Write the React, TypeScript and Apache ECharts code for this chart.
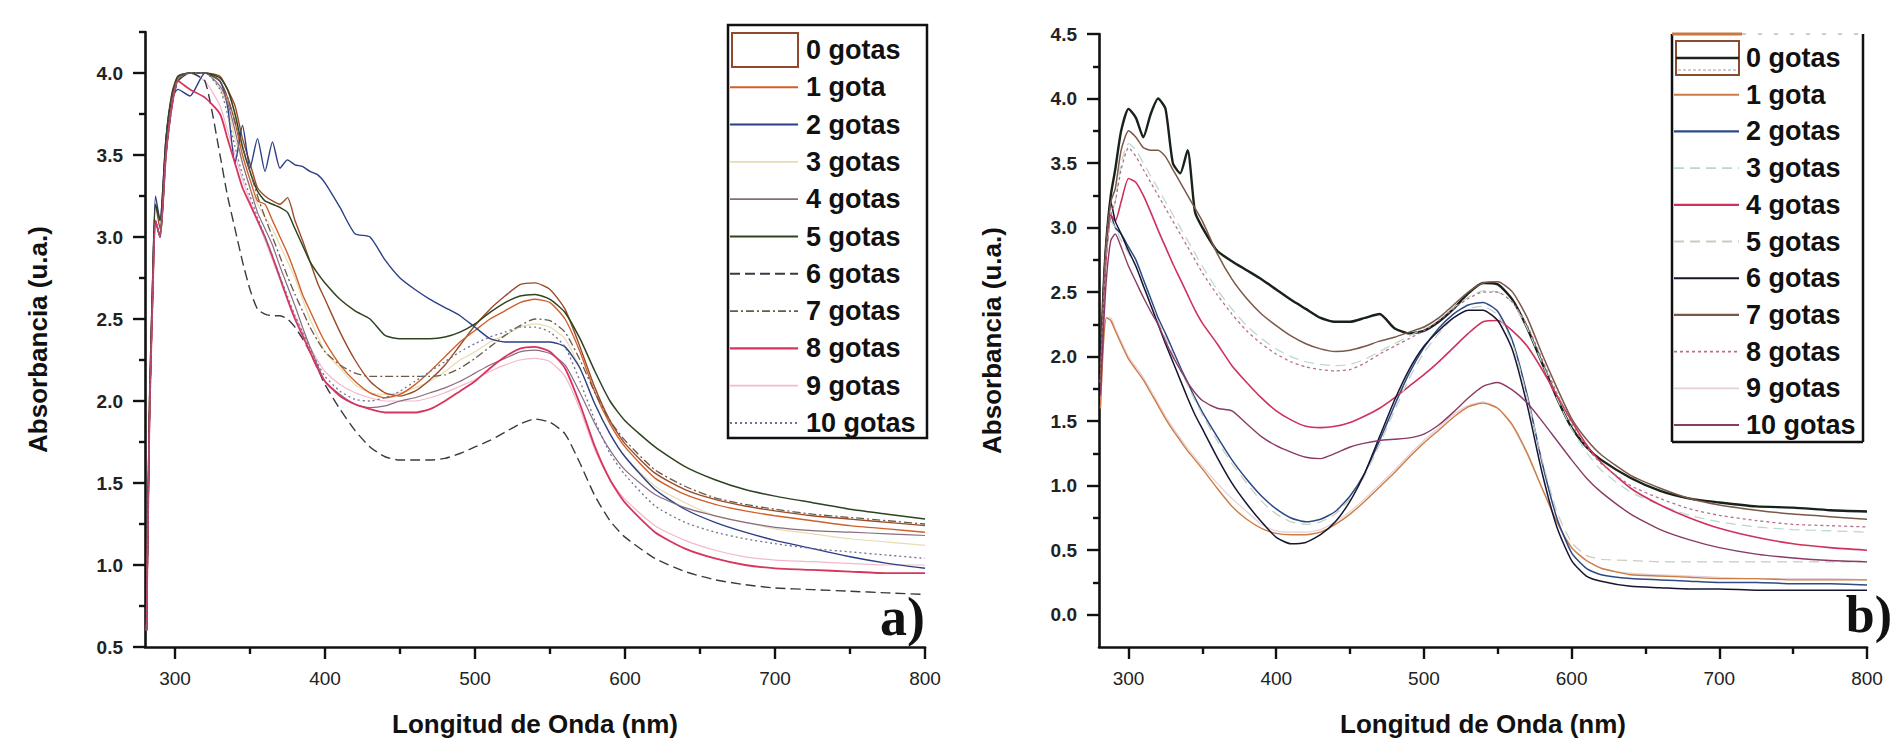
import React, { useEffect, useRef } from 'react';
import * as echarts from 'echarts';

// ---------------- DATA ----------------
const seriesNames = ['0 gotas', '1 gota', '2 gotas', '3 gotas', '4 gotas', '5 gotas', '6 gotas', '7 gotas', '8 gotas', '9 gotas', '10 gotas'];

const xMajorTicks = [300, 400, 500, 600, 700, 800];
const xMinorTicks = [350, 450, 550, 650, 750];
const yMajorTicksA = [0.5, 1.0, 1.5, 2.0, 2.5, 3.0, 3.5, 4.0];
const yMinorTicksA = [0.75, 1.25, 1.75, 2.25, 2.75, 3.25, 3.75, 4.25];
const yMajorTicksB = [0.0, 0.5, 1.0, 1.5, 2.0, 2.5, 3.0, 3.5, 4.0, 4.5];
const yMinorTicksB = [0.25, 0.75, 1.25, 1.75, 2.25, 2.75, 3.25, 3.75, 4.25];

// Panel a) wavelengths (nm)
const wavelengthsA = [281, 283, 285, 287, 290, 294, 298, 302, 310, 320, 330, 335, 340, 345, 350, 355, 360, 365, 370, 375, 380, 385, 390, 395, 400, 410, 420, 430, 440, 450, 460, 470, 480, 490, 500, 510, 520, 530, 540, 550, 560, 570, 580, 590, 600, 620, 640, 660, 680, 700, 725, 750, 775, 800];

const a0 = [0.7, 2.0, 2.7, 3.2, 3.05, 3.6, 3.88, 3.98, 4.0, 4.0, 3.98, 3.9, 3.8, 3.6, 3.45, 3.3, 3.25, 3.22, 3.2, 3.24, 3.1, 2.98, 2.85, 2.72, 2.62, 2.42, 2.25, 2.12, 2.05, 2.03, 2.06, 2.13, 2.22, 2.34, 2.46, 2.56, 2.64, 2.71, 2.72, 2.68, 2.56, 2.33, 2.08, 1.88, 1.74, 1.56, 1.46, 1.4, 1.36, 1.33, 1.3, 1.28, 1.26, 1.24];
const a1 = [0.6, 1.9, 2.6, 3.1, 3.0, 3.55, 3.85, 3.97, 4.0, 4.0, 3.95, 3.85, 3.7, 3.5, 3.35, 3.22, 3.2, 3.1, 3.0, 2.9, 2.78, 2.65, 2.55, 2.45, 2.36, 2.22, 2.12, 2.05, 2.02, 2.04, 2.1, 2.18, 2.27, 2.36, 2.43, 2.5, 2.55, 2.6, 2.62, 2.6, 2.5, 2.3, 2.05, 1.86, 1.72, 1.53, 1.43, 1.37, 1.33, 1.3, 1.27, 1.24, 1.22, 1.2];
const a2 = [0.6, 1.9, 2.7, 3.25, 3.1, 3.6, 3.85, 3.9, 3.86, 4.0, 3.95, 3.8, 3.45, 3.68, 3.42, 3.6, 3.4, 3.58, 3.42, 3.47, 3.44, 3.43, 3.4, 3.38, 3.33, 3.18, 3.02, 3.0, 2.86, 2.75, 2.68, 2.62, 2.57, 2.52, 2.45, 2.38, 2.36, 2.36, 2.36, 2.36, 2.33, 2.2, 1.98, 1.8, 1.66, 1.46, 1.34, 1.26, 1.2, 1.15, 1.1, 1.05, 1.01, 0.98];
const a3 = [0.6, 1.9, 2.6, 3.1, 3.0, 3.5, 3.8, 3.95, 4.0, 4.0, 3.9, 3.8, 3.6, 3.45, 3.3, 3.2, 3.12, 3.05, 2.95, 2.85, 2.75, 2.62, 2.5, 2.4, 2.3, 2.2, 2.1, 2.05, 2.04, 2.05, 2.08, 2.12, 2.18, 2.25, 2.3, 2.36, 2.4, 2.45, 2.47, 2.45, 2.38, 2.2, 1.98, 1.8, 1.66, 1.48, 1.38, 1.3, 1.26, 1.22, 1.19, 1.16, 1.14, 1.12];
const a4 = [0.6, 1.9, 2.6, 3.1, 3.0, 3.5, 3.82, 3.96, 4.0, 4.0, 3.92, 3.82, 3.65, 3.45, 3.3, 3.15, 3.05, 2.95, 2.82, 2.7, 2.58, 2.45, 2.33, 2.22, 2.12, 2.04, 1.98, 1.96, 1.97, 2.0, 2.02, 2.05, 2.08, 2.12, 2.17, 2.22, 2.26, 2.3, 2.31, 2.29, 2.22, 2.05, 1.86, 1.7, 1.58, 1.43, 1.35, 1.3, 1.26, 1.23, 1.21, 1.2, 1.19, 1.18];
const a5 = [0.6, 2.0, 2.7, 3.2, 3.1, 3.6, 3.87, 3.98, 4.0, 4.0, 3.97, 3.9, 3.75, 3.55, 3.4, 3.28, 3.22, 3.2, 3.18, 3.15, 3.05, 2.95, 2.85, 2.78, 2.72, 2.62, 2.55, 2.5, 2.4, 2.38, 2.38, 2.38, 2.39, 2.42, 2.47, 2.54, 2.6, 2.64, 2.65, 2.62, 2.54, 2.38, 2.18, 2.0, 1.88, 1.72, 1.6, 1.52, 1.46, 1.42, 1.38, 1.34, 1.31, 1.28];
const a6 = [0.6, 1.9, 2.6, 3.1, 3.0, 3.5, 3.8, 3.95, 4.0, 3.95, 3.5, 3.25, 3.05, 2.85, 2.68, 2.56, 2.53, 2.52, 2.52, 2.5, 2.45, 2.38, 2.3, 2.2, 2.1, 1.95, 1.82, 1.72, 1.66, 1.64, 1.64, 1.64, 1.65, 1.68, 1.72, 1.76, 1.81, 1.86, 1.89, 1.87, 1.8, 1.62, 1.42, 1.27, 1.17, 1.04, 0.96, 0.91, 0.88, 0.86, 0.85, 0.84, 0.83, 0.82];
const a7 = [0.6, 1.9, 2.6, 3.1, 3.0, 3.55, 3.85, 3.97, 4.0, 4.0, 3.95, 3.85, 3.7, 3.55, 3.4, 3.25, 3.12, 3.0, 2.88, 2.76, 2.65, 2.55, 2.45, 2.37, 2.3, 2.22, 2.17, 2.15, 2.15, 2.15, 2.15, 2.15, 2.16, 2.2, 2.26, 2.33, 2.4, 2.46, 2.5, 2.49, 2.42, 2.25, 2.05, 1.88, 1.76, 1.58, 1.48, 1.41, 1.37, 1.34, 1.31, 1.29, 1.27, 1.25];
const a8 = [0.6, 1.9, 2.6, 3.1, 3.0, 3.5, 3.8, 3.95, 3.9, 3.85, 3.75, 3.6, 3.45, 3.3, 3.2, 3.1, 3.0, 2.88, 2.75, 2.62, 2.5, 2.4, 2.3, 2.2, 2.12, 2.03, 1.98, 1.95, 1.93, 1.93, 1.93, 1.95, 2.0, 2.06, 2.12, 2.2, 2.27, 2.32, 2.33, 2.3, 2.2, 1.98, 1.72, 1.52, 1.38, 1.2, 1.1, 1.04, 1.0, 0.98, 0.97, 0.96, 0.95, 0.95];
const a9 = [0.6, 1.9, 2.6, 3.1, 3.0, 3.5, 3.8, 3.95, 4.0, 3.95, 3.8, 3.65, 3.5, 3.35, 3.22, 3.1, 2.98, 2.86, 2.74, 2.62, 2.52, 2.42, 2.33, 2.25, 2.18, 2.1, 2.05, 2.02, 2.0, 2.0, 2.0, 2.02, 2.05, 2.09, 2.13, 2.18, 2.22, 2.25, 2.26, 2.24, 2.15, 1.95, 1.7, 1.52, 1.4, 1.24, 1.15, 1.09, 1.05, 1.03, 1.02, 1.01, 1.0, 1.0];
const a10 = [0.6, 1.9, 2.6, 3.1, 3.0, 3.5, 3.82, 3.96, 4.0, 4.0, 3.9, 3.75, 3.55, 3.38, 3.25, 3.12, 3.0, 2.88, 2.76, 2.64, 2.52, 2.42, 2.32, 2.23, 2.15, 2.06, 2.01, 2.0, 2.02, 2.06, 2.12, 2.18, 2.24, 2.3, 2.35, 2.39, 2.42, 2.45, 2.45, 2.42, 2.33, 2.12, 1.88, 1.68, 1.55, 1.36, 1.26, 1.2, 1.16, 1.13, 1.1, 1.08, 1.06, 1.04];

// Panel b) wavelengths (nm)
const wavelengthsB = [281, 283, 285, 288, 291, 295, 300, 305, 310, 315, 320, 325, 330, 335, 340, 345, 350, 360, 370, 380, 390, 400, 410, 420, 430, 440, 450, 460, 470, 480, 490, 500, 510, 520, 530, 540, 550, 560, 570, 580, 590, 600, 610, 620, 640, 660, 680, 700, 725, 750, 775, 800];

const b0 = [1.9, 2.5, 2.9, 3.25, 3.45, 3.75, 3.92, 3.85, 3.7, 3.88, 4.0, 3.92, 3.5, 3.42, 3.6, 3.12, 3.0, 2.82, 2.74, 2.67, 2.6, 2.52, 2.44, 2.37, 2.3, 2.27, 2.27, 2.3, 2.33, 2.22, 2.18, 2.2, 2.27, 2.37, 2.49, 2.57, 2.56, 2.44, 2.22, 1.95, 1.68, 1.45, 1.3, 1.2, 1.06, 0.96, 0.9, 0.87, 0.84, 0.83, 0.81, 0.8];
const b1 = [1.6, 2.1, 2.3, 2.28, 2.2, 2.1, 1.98, 1.9, 1.82, 1.72, 1.62, 1.52, 1.43, 1.35, 1.27, 1.2, 1.13, 0.98, 0.84, 0.74, 0.67, 0.63, 0.62, 0.62, 0.64, 0.7, 0.78, 0.88, 0.99, 1.1, 1.22, 1.33, 1.43, 1.53, 1.61, 1.64, 1.6, 1.47, 1.25, 0.98, 0.72, 0.52, 0.42, 0.36, 0.31, 0.3, 0.29, 0.28, 0.28, 0.27, 0.27, 0.27];
const b2 = [1.8, 2.4, 2.8, 3.1, 3.0, 2.95, 2.85, 2.75, 2.6, 2.45, 2.3, 2.18, 2.05, 1.92, 1.8, 1.68, 1.57, 1.38, 1.2, 1.05, 0.92, 0.82, 0.75, 0.72, 0.74, 0.8, 0.92, 1.1, 1.35, 1.62, 1.87, 2.07, 2.22, 2.33, 2.4, 2.42, 2.35, 2.12, 1.7, 1.18, 0.75, 0.48, 0.36, 0.31, 0.28, 0.27, 0.26, 0.25, 0.25, 0.24, 0.24, 0.23];
const b3 = [1.8, 2.4, 2.8, 3.1, 3.2, 3.5, 3.65, 3.6, 3.5, 3.4, 3.3, 3.2, 3.1, 3.0, 2.9, 2.8, 2.7, 2.52, 2.37, 2.24, 2.14, 2.06, 2.0, 1.96, 1.94, 1.93, 1.94, 1.98, 2.04, 2.1, 2.16, 2.22, 2.3, 2.38, 2.46, 2.51, 2.5, 2.42, 2.22, 1.95, 1.68, 1.44, 1.26, 1.12, 0.95, 0.85, 0.77, 0.72, 0.68, 0.66, 0.65, 0.64];
const b4 = [1.8, 2.4, 2.8, 3.1, 3.05, 3.2, 3.38, 3.35, 3.25, 3.12, 2.98, 2.85, 2.72, 2.6, 2.48, 2.36, 2.26, 2.1, 1.93, 1.8, 1.68, 1.58, 1.51, 1.46, 1.45, 1.46, 1.49, 1.54, 1.6, 1.68, 1.77, 1.86, 1.96, 2.07, 2.18, 2.27, 2.28, 2.2, 2.08, 1.9, 1.7, 1.5, 1.32, 1.18, 0.98, 0.85, 0.75, 0.67, 0.6, 0.55, 0.52, 0.5];
const b5 = [1.8, 2.4, 2.8, 3.05, 3.0, 2.9, 2.8, 2.7, 2.56, 2.42, 2.28, 2.15, 2.02, 1.9, 1.78, 1.66, 1.55, 1.35, 1.17, 1.02, 0.88, 0.78, 0.72, 0.7, 0.72, 0.78, 0.9, 1.08, 1.32, 1.58, 1.83, 2.03, 2.18, 2.3, 2.37, 2.39, 2.32, 2.1, 1.68, 1.2, 0.8, 0.56, 0.46, 0.43, 0.42, 0.41, 0.41, 0.41, 0.41, 0.41, 0.41, 0.41];
const b6 = [1.8, 2.5, 2.9, 3.2, 3.05, 2.95, 2.82, 2.7, 2.55, 2.4, 2.25, 2.1, 1.96, 1.82, 1.68, 1.55, 1.44, 1.22, 1.02, 0.86, 0.72, 0.6, 0.55, 0.56, 0.62, 0.72, 0.88, 1.1, 1.38, 1.66, 1.9, 2.08, 2.2, 2.3, 2.36, 2.36, 2.28, 2.05, 1.62, 1.1, 0.68, 0.42, 0.3, 0.26, 0.22, 0.21, 0.2, 0.2, 0.19, 0.19, 0.19, 0.19];
const b7 = [1.8, 2.5, 2.9, 3.2, 3.3, 3.6, 3.75, 3.7, 3.62, 3.6, 3.6, 3.55, 3.45, 3.35, 3.25, 3.15, 3.05, 2.8, 2.6, 2.45, 2.33, 2.24, 2.16, 2.1, 2.06, 2.04, 2.05, 2.08, 2.12, 2.15, 2.19, 2.23, 2.3, 2.4, 2.5, 2.57, 2.58, 2.5, 2.3, 2.02, 1.76, 1.52, 1.36, 1.24, 1.08, 0.98, 0.9, 0.85, 0.81, 0.78, 0.76, 0.74];
const b8 = [1.8, 2.4, 2.8, 3.1, 3.2, 3.45, 3.62, 3.55, 3.45, 3.35, 3.25, 3.15, 3.05, 2.95, 2.85, 2.75, 2.65, 2.48, 2.33, 2.2, 2.1, 2.02, 1.96, 1.92, 1.9, 1.89, 1.9, 1.95, 2.02, 2.08, 2.14, 2.2, 2.28, 2.37, 2.45, 2.5, 2.5, 2.42, 2.24, 1.98, 1.72, 1.48, 1.3, 1.17, 1.0, 0.9, 0.82, 0.77, 0.73, 0.7, 0.69, 0.68];
const b9 = [1.6, 2.1, 2.3, 2.3, 2.22, 2.12, 2.0, 1.92, 1.84, 1.74, 1.64, 1.54, 1.45, 1.37, 1.29, 1.22, 1.15, 1.02, 0.9, 0.8, 0.7, 0.65, 0.64, 0.64, 0.66, 0.72, 0.8, 0.9, 1.01, 1.12, 1.24, 1.35, 1.45, 1.55, 1.62, 1.65, 1.6, 1.46, 1.24, 0.98, 0.72, 0.52, 0.42, 0.36, 0.32, 0.31, 0.3, 0.29, 0.28, 0.28, 0.28, 0.27];
const b10 = [1.7, 2.2, 2.6, 2.9, 2.95, 2.85, 2.7, 2.58, 2.46, 2.35, 2.25, 2.12, 2.0, 1.9, 1.8, 1.72, 1.66, 1.6, 1.58, 1.48, 1.38, 1.31, 1.26, 1.22, 1.21, 1.25, 1.3, 1.33, 1.35, 1.36, 1.37, 1.4, 1.47, 1.57, 1.68, 1.77, 1.8, 1.74, 1.64, 1.5, 1.35, 1.2, 1.06, 0.95, 0.78, 0.66, 0.58, 0.52, 0.47, 0.44, 0.42, 0.41];

const valuesA = [a0, a1, a2, a3, a4, a5, a6, a7, a8, a9, a10];
const valuesB = [b0, b1, b2, b3, b4, b5, b6, b7, b8, b9, b10];

// ---------------- STYLES ----------------
type LS = { color: string; width: number; dash?: number[] };
const stylesA: LS[] = [
  { color: '#9a4a28', width: 1.4 },
  { color: '#d0602a', width: 1.4 },
  { color: '#2b3f86', width: 1.4 },
  { color: '#e8dcb0', width: 1.2 },
  { color: '#8a6a80', width: 1.2 },
  { color: '#2e4420', width: 1.5 },
  { color: '#3a3a44', width: 1.4, dash: [10, 5] },
  { color: '#6a5a48', width: 1.3, dash: [8, 3, 2, 3] },
  { color: '#d8345e', width: 1.8 },
  { color: '#f2b8cc', width: 1.2 },
  { color: '#707090', width: 1.3, dash: [2, 3] },
];
const stylesB: LS[] = [
  { color: '#18221a', width: 2.4 },
  { color: '#cc7c44', width: 1.4 },
  { color: '#2c4a86', width: 1.5 },
  { color: '#b8d8cc', width: 1.2, dash: [10, 6] },
  { color: '#d0305c', width: 1.6 },
  { color: '#c8ccc0', width: 1.2, dash: [10, 6] },
  { color: '#161630', width: 1.5 },
  { color: '#7a5848', width: 1.5 },
  { color: '#b87088', width: 1.3, dash: [3, 3] },
  { color: '#e4d0d8', width: 1.2 },
  { color: '#8a3a66', width: 1.4 },
];

const FONT = "'Liberation Sans', Arial, Helvetica, sans-serif";
const SERIF = "'Liberation Serif', 'Times New Roman', serif";
const AXIS_COLOR = '#111';

function buildAxes(gridIndex: number, xMin: number, xMax: number, yMin: number, yMax: number, yMaj: number[], yMin2: number[]) {
  const xMajor = {
    type: 'value', gridIndex, min: xMin, max: xMax, position: 'bottom',
    name: 'Longitud de Onda (nm)', nameLocation: 'middle', nameGap: 64,
    nameTextStyle: { fontFamily: FONT, fontSize: 26, fontWeight: 'bold', color: '#111' },
    axisLine: { show: true, onZero: false, lineStyle: { color: AXIS_COLOR, width: 2.6 } },
    axisTick: { show: true, customValues: xMajorTicks, length: 12, lineStyle: { color: AXIS_COLOR, width: 2.4 } },
    axisLabel: { show: true, customValues: xMajorTicks, margin: 22, fontFamily: FONT, fontSize: 19, color: '#222',
      formatter: (v: number) => String(Math.round(v)) },
    splitLine: { show: false },
  };
  const xMinor = {
    type: 'value', gridIndex, min: xMin, max: xMax, position: 'bottom',
    axisLine: { show: false, onZero: false },
    axisTick: { show: true, customValues: xMinorTicks, length: 7, lineStyle: { color: AXIS_COLOR, width: 2.4 } },
    axisLabel: { show: false },
    splitLine: { show: false },
  };
  const yMajor = {
    type: 'value', gridIndex, min: yMin, max: yMax, position: 'left',
    name: 'Absorbancia (u.a.)', nameLocation: 'middle', nameGap: 94,
    nameTextStyle: { fontFamily: FONT, fontSize: 26, fontWeight: 'bold', color: '#111' },
    axisLine: { show: true, onZero: false, lineStyle: { color: AXIS_COLOR, width: 2.6 } },
    axisTick: { show: true, customValues: yMaj, length: 12, lineStyle: { color: AXIS_COLOR, width: 2.4 } },
    axisLabel: { show: true, customValues: yMaj, margin: 22, fontFamily: FONT, fontSize: 19, fontWeight: 'bold', color: '#222',
      formatter: (v: number) => v.toFixed(1) },
    splitLine: { show: false },
  };
  const yMinor = {
    type: 'value', gridIndex, min: yMin, max: yMax, position: 'left',
    axisLine: { show: false, onZero: false },
    axisTick: { show: true, customValues: yMin2, length: 6, lineStyle: { color: AXIS_COLOR, width: 2.4 } },
    axisLabel: { show: false },
    splitLine: { show: false },
  };
  return { x: [xMajor, xMinor], y: [yMajor, yMinor] };
}

function buildSeries(xs: number[], vals: number[][], styles: LS[], axisIndex: number) {
  return vals.map((v, i) => ({
    type: 'line',
    name: seriesNames[i] + (axisIndex === 0 ? ' (a)' : ' (b)'),
    xAxisIndex: axisIndex,
    yAxisIndex: axisIndex,
    data: xs.map((x, j) => [x, v[j]]),
    symbol: 'none',
    showSymbol: false,
    smooth: 0.2,
    silent: true,
    lineStyle: { color: styles[i].color, width: styles[i].width, type: styles[i].dash ? styles[i].dash : 'solid' },
    z: 2 + (styles[i].color.startsWith('#e') || styles[i].color.startsWith('#f') ? 0 : 1),
  }));
}

type LegendCfg = {
  boxX: number; boxY: number; boxW: number; boxH: number;
  firstRowY: number; rowStep: number; textX: number; lineX1: number; lineX2: number;
  samples: LS[]; variant: 'a' | 'b';
};

function buildLegend(cfg: LegendCfg) {
  const els: any[] = [];
  els.push({ type: 'rect', z: 100, shape: { x: cfg.boxX, y: cfg.boxY, width: cfg.boxW, height: cfg.boxH },
    style: { fill: '#fff', stroke: cfg.variant === 'a' ? '#111' : 'transparent', lineWidth: 2.5 } });
  if (cfg.variant === 'b') {
    const x1 = cfg.boxX, x2 = cfg.boxX + cfg.boxW, y1 = cfg.boxY, y2 = cfg.boxY + cfg.boxH;
    els.push({ type: 'line', z: 101, shape: { x1, y1, x2: x1, y2 }, style: { stroke: '#111', lineWidth: 2.5 } });
    els.push({ type: 'line', z: 101, shape: { x1, y1: y2, x2, y2 }, style: { stroke: '#111', lineWidth: 2.5 } });
    els.push({ type: 'line', z: 101, shape: { x1: x2, y1, x2, y2 }, style: { stroke: '#111', lineWidth: 2.5 } });
    els.push({ type: 'line', z: 101, shape: { x1: x1, y1, x2: x1 + 70, y2: y1 }, style: { stroke: '#c87840', lineWidth: 3 } });
    els.push({ type: 'line', z: 101, shape: { x1: x1 + 70, y1, x2, y2: y1 }, style: { stroke: '#bbb', lineWidth: 1.5, lineDash: [4, 12] } });
  }
  seriesNames.forEach((name, i) => {
    const cy = cfg.firstRowY + i * cfg.rowStep;
    if (i === 0) {
      els.push({ type: 'rect', z: 102, shape: { x: cfg.lineX1 + 2, y: cy - 17, width: cfg.lineX2 - cfg.lineX1 - 2, height: 34 },
        style: { fill: 'transparent', stroke: '#8e4a2c', lineWidth: 2 } });
      if (cfg.variant === 'b') {
        els.push({ type: 'line', z: 103, shape: { x1: cfg.lineX1 + 2, y1: cy, x2: cfg.lineX2, y2: cy }, style: { stroke: '#1c241c', lineWidth: 2.5 } });
        els.push({ type: 'line', z: 103, shape: { x1: cfg.lineX1 + 4, y1: cy + 12, x2: cfg.lineX2 - 2, y2: cy + 12 }, style: { stroke: '#9a9aa8', lineWidth: 1.2, lineDash: [3, 2] } });
      }
    } else {
      const s = cfg.samples[i];
      els.push({ type: 'line', z: 102, shape: { x1: cfg.lineX1, y1: cy, x2: cfg.lineX2, y2: cy },
        style: { stroke: s.color, lineWidth: Math.max(1.2, s.width + 0.6), lineDash: s.dash ? s.dash : null } });
    }
    els.push({ type: 'text', z: 104, x: cfg.textX, y: cy,
      style: { text: name, fill: '#111', fontFamily: FONT, fontSize: 27, fontWeight: 'bold',
        align: 'left', verticalAlign: 'middle', textAlign: 'left', textVerticalAlign: 'middle' } });
  });
  return els;
}

export default function App() {
  const ref = useRef<HTMLDivElement>(null);
  useEffect(() => {
    if (!ref.current) return;
    document.body.style.margin = '0';
    const chart = echarts.init(ref.current, null, { renderer: 'svg' });
    const axA = buildAxes(0, 280, 800, 0.5, 4.25, yMajorTicksA, yMinorTicksA);
    const axB = buildAxes(1, 280, 800, -0.25, 4.5, yMajorTicksB, yMinorTicksB);

    const legendA = buildLegend({ boxX: 728, boxY: 25, boxW: 199, boxH: 413, firstRowY: 50, rowStep: 37.3,
      textX: 806, lineX1: 730, lineX2: 798, samples: stylesA, variant: 'a' });
    const legendB = buildLegend({ boxX: 1672, boxY: 34, boxW: 191, boxH: 408, firstRowY: 58, rowStep: 36.7,
      textX: 1746, lineX1: 1674, lineX2: 1739, samples: stylesB, variant: 'b' });

    const option: any = {
      animation: false,
      backgroundColor: '#fff',
      grid: [
        { left: 145, top: 32, width: 780, height: 615, containLabel: false, outerBoundsMode: 'none' },
        { left: 1099, top: 34, width: 768, height: 613, containLabel: false, outerBoundsMode: 'none' },
      ],
      xAxis: [axA.x[0], axA.x[1], axB.x[0], axB.x[1]],
      yAxis: [axA.y[0], axA.y[1], axB.y[0], axB.y[1]],
      series: [
        ...buildSeries(wavelengthsA, valuesA, stylesA, 0),
        ...buildSeries(wavelengthsB, valuesB, stylesB, 2),
      ],
      tooltip: { show: false },
      graphic: {
        elements: [
          ...legendA,
          ...legendB,
          { type: 'text', z: 110, x: 925, y: 644,
            style: { text: 'a)', fill: '#111', fontFamily: SERIF, fontSize: 54, fontWeight: 'bold',
              align: 'right', verticalAlign: 'bottom', textAlign: 'right', textVerticalAlign: 'bottom' } },
          { type: 'text', z: 110, x: 1892, y: 640,
            style: { text: 'b)', fill: '#111', fontFamily: SERIF, fontSize: 52, fontWeight: 'bold',
              align: 'right', verticalAlign: 'bottom', textAlign: 'right', textVerticalAlign: 'bottom' } },
        ],
      },
    };
    chart.setOption(option);
    return () => chart.dispose();
  }, []);
  return (
    <div style={{ position: 'fixed', left: 0, top: 0, width: 1894, height: 742, background: '#fff' }}>
      <div ref={ref} style={{ width: 1894, height: 742 }} />
    </div>
  );
}
